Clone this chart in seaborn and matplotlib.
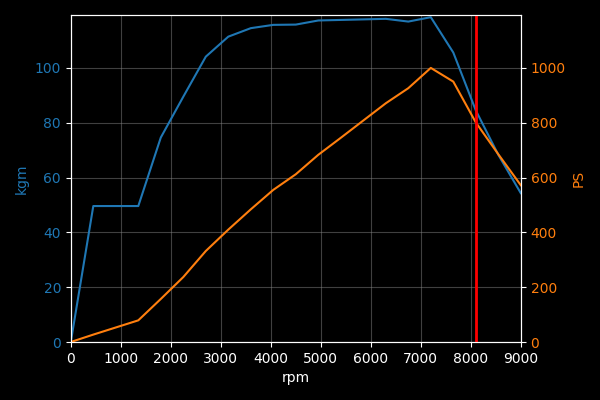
import matplotlib
matplotlib.use("Agg")
import matplotlib.pyplot as plt
import seaborn as sns
import pandas as pd

rpm = [0, 450, 900, 1350, 1800, 2250, 2700, 3150, 3600, 4050, 4500,
       4950, 5400, 5850, 6300, 6750, 7200, 7650, 8100, 8550, 9000]
kgm = [0, 49.6, 49.6, 49.6, 74.6, 89.5, 104.1, 111.4, 114.5, 115.7, 115.8,
       117.3, 117.5, 117.7, 117.9, 116.9, 118.5, 105.6, 84.5, 68.3, 54.3]
ps = [0, 27, 53, 79, 157, 237, 332, 410, 484, 555, 612,
      683, 745, 808, 871, 926, 1000, 950, 801, 685, 572]
redline_rpm = 8100

df = pd.DataFrame({"rpm": rpm, "kgm": kgm, "PS": ps})

plt.style.use("dark_background")
blue = "#1f77b4"
orange = "#ff7f0e"

fig, ax = plt.subplots(figsize=(6, 4), dpi=100)
fig.subplots_adjust(left=0.118, right=0.868, top=0.9625, bottom=0.145)
ax2 = ax.twinx()

sns.lineplot(data=df, x="rpm", y="kgm", ax=ax, color=blue, linewidth=1.5)
sns.lineplot(data=df, x="rpm", y="PS", ax=ax2, color=orange, linewidth=1.5)
ax2.axvline(redline_rpm, color="red", linewidth=2)

ax.set_xlim(0, 9000)
ax.set_ylim(0, 119.3)
ax2.set_ylim(0, 1193)
ax.set_xticks(range(0, 9001, 1000))
ax.grid(True, color="gray", alpha=0.5, linewidth=0.8)

ax.set_xlabel("rpm")
ax.set_ylabel("kgm", color=blue)
ax2.set_ylabel("PS", color=orange)
ax.tick_params(axis="y", labelcolor=blue)
ax2.tick_params(axis="y", labelcolor=orange)

fig.savefig("out.png", dpi=100)
